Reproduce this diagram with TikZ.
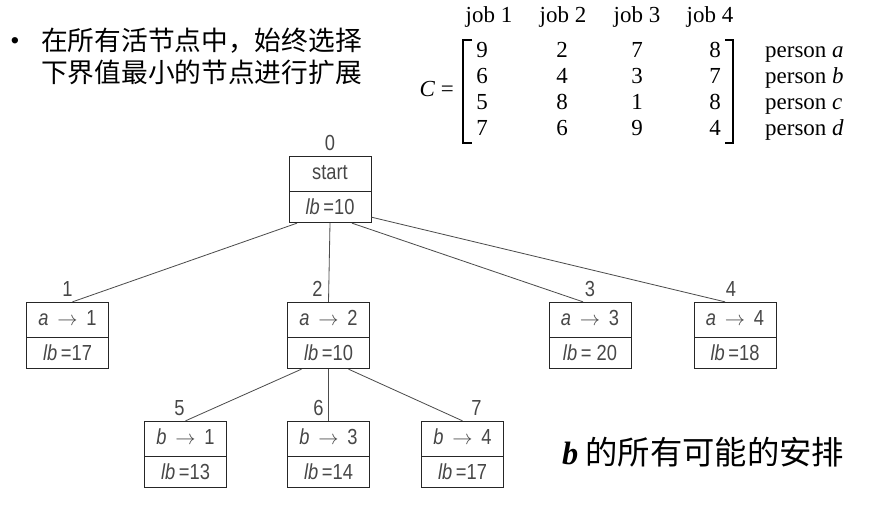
\documentclass[tikz,border=0pt]{standalone}
\usepackage{fontspec}
\setmainfont{Liberation Serif}
\setsansfont{Liberation Sans}
\newfontfamily\cjk{Noto Sans CJK SC}
\newfontfamily\narrowsans[FakeStretch=0.84]{Liberation Sans}
\usetikzlibrary{shapes.multipart,calc}

\newcommand{\treefont}{\narrowsans\fontsize{18.6}{20}\selectfont}
\newcommand{\matfont}{\rmfamily\fontsize{19.6}{22}\selectfont}
\newcommand{\assign}[2]{\textit{#1}\, $\rightarrow$\, #2}

\tikzset{
  tnode/.style={rectangle split, rectangle split parts=2, draw=black!85, line width=0.7pt,
    minimum width=2.46cm, inner ysep=6.3pt, text height=13pt, text depth=3.5pt,
    font=\treefont, text=black!72, align=center},
  lbl/.style={font=\treefont, text=black!72, inner sep=0pt, text height=13pt, text depth=0pt, yshift=4.5pt},
  edge/.style={draw=black!70, line width=0.7pt},
  mat/.style={font=\matfont, anchor=base, inner sep=0pt},
}

\begin{document}
\begin{tikzpicture}[x=0.03cm, y=-0.03cm]
\useasboundingbox (0,0) rectangle (888,516);

% the rule on top
\node[anchor=center, font=\sffamily\fontsize{20}{22}\selectfont] (dot) at (15,43) {•};
\node[anchor=west, inner sep=0pt, font=\cjk\fontsize{22.8}{26.5}\selectfont] (rule1) at (41,41) {在所有活节点中，始终选择};
\node[anchor=west, inner sep=0pt, font=\cjk\fontsize{22.8}{26.5}\selectfont] (rule2) at (41,72) {下界值最小的节点进行扩展};

% cost matrix
\node[mat, anchor=base east] (C) at (454,97) {\textit{C} =};
\foreach \x/\j in {489/1,563/2,637/3,710/4}
  \node[mat] (job\j) at (\x,23) {job \j};
\foreach \y/\p/\a/\b/\c/\d in {58/a/9/2/7/8, 84/b/6/4/3/7, 110/c/5/8/1/8, 136/d/7/6/9/4}
{
  \node[mat] at (482,\y) {\a};
  \node[mat] at (562,\y) {\b};
  \node[mat] at (637,\y) {\c};
  \node[mat] at (715,\y) {\d};
  \node[mat, anchor=base west] (p\p) at (765,\y) {person \textit{\p}};
}
\draw[line width=0.9pt] (472,40) -- (463,40) -- (463,143) -- (472,143);
\draw[line width=0.9pt] (725,40) -- (733,40) -- (733,143) -- (725,143);

% state-space tree
\node[tnode, label={[lbl]above:0}] (n0) at (330,189.5) {start \nodepart{two} \textit{lb}\,=10};
\node[tnode, label={[lbl]above:1}] (n1) at (67.5,335.5) {\assign{a}{1} \nodepart{two} \textit{lb}\,=17};
\node[tnode, label={[lbl,xshift=-0.33cm]above:2}] (n2) at (328.5,335.5) {\assign{a}{2} \nodepart{two} \textit{lb}\,=10};
\node[tnode, label={[lbl]above:3}] (n3) at (590,335.5) {\assign{a}{3} \nodepart{two} \textit{lb}\,= 20};
\node[tnode, label={[lbl,xshift=-0.12cm]above:4}] (n4) at (735,335.5) {\assign{a}{4} \nodepart{two} \textit{lb}\,=18};
\node[tnode, label={[lbl,xshift=-0.18cm]above:5}] (n5) at (185.5,454.5) {\assign{b}{1} \nodepart{two} \textit{lb}\,=13};
\node[tnode, label={[lbl,xshift=-0.3cm]above:6}] (n6) at (328.5,454.5) {\assign{b}{3} \nodepart{two} \textit{lb}\,=14};
\node[tnode, label={[lbl,xshift=0.42cm]above:7}] (n7) at (462.5,454.5) {\assign{b}{4} \nodepart{two} \textit{lb}\,=17};

\draw[edge] ($(n0.south)+(-33,0)$) -- ($(n1.north)+(5,0)$);
\draw[edge] (n0.south) -- (n2.north);
\draw[edge] ($(n0.south)+(22,0)$) -- ($(n3.north)+(-7,0)$);
\draw[edge] ($(n0.south east)+(0,-6)$) -- ($(n4.north)+(-10,0)$);
\draw[edge] ($(n2.south)+(-27,0)$) -- (n5.north);
\draw[edge] (n2.south) -- (n6.north);
\draw[edge] ($(n2.south)+(20,0)$) -- (n7.north);

\node[anchor=west, inner sep=0pt, font=\cjk\fontsize{27.6}{31}\selectfont] (note) at (562,452)
  {{\rmfamily\bfseries\itshape b} 的所有可能的安排};

\end{tikzpicture}
\end{document}
